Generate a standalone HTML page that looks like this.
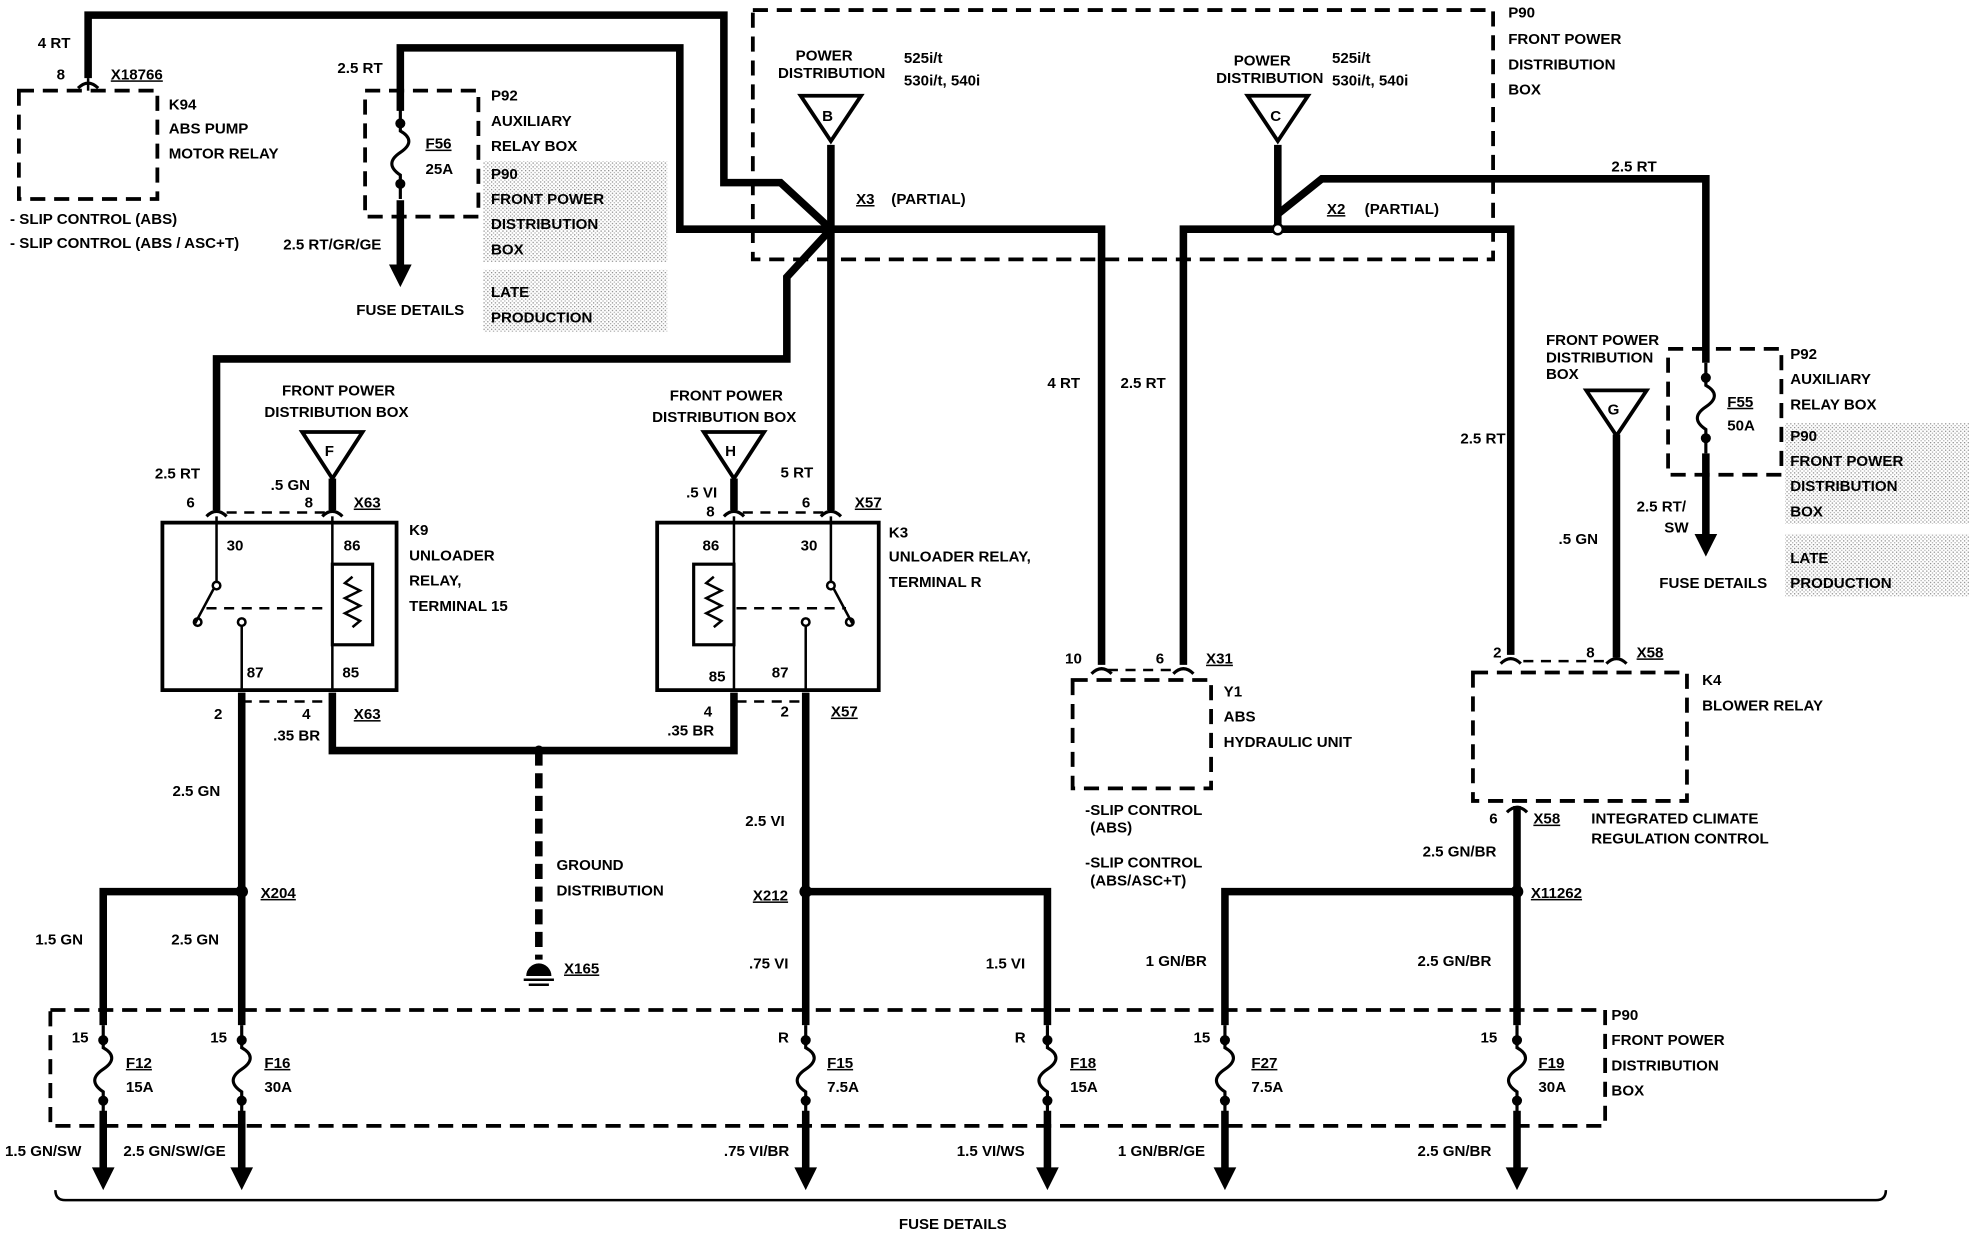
<!DOCTYPE html>
<html><head><meta charset="utf-8"><style>
html,body{margin:0;padding:0;background:#fff}
svg{display:block}
text{font-family:"Liberation Sans",sans-serif;font-weight:bold;font-size:12px;fill:#000}
.w{stroke:#000;stroke-width:6;fill:none}
.t{stroke:#000;stroke-width:2.5;fill:none}
.d{stroke:#000;stroke-width:3;fill:none;stroke-dasharray:12 7}
.dt{stroke:#000;stroke-width:2;fill:none;stroke-dasharray:8 6}
</style></head><body>
<svg width="1974" height="1248" viewBox="0 0 1568 991" preserveAspectRatio="none" xmlns="http://www.w3.org/2000/svg">
<defs>
<pattern id="dot" width="3" height="3" patternUnits="userSpaceOnUse"><rect width="3" height="3" fill="#fff"/><rect width="1" height="1" fill="#888"/><rect x="1.5" y="1.5" width="1" height="1" fill="#aaa"/></pattern>
<g id="fuse">
<path d="M0,-12 L0,6 C9,11 9,17 0,23 C-9,29 -9,35 0,41 L0,60" stroke="#000" stroke-width="2.5" fill="none"/>
<circle cx="0" cy="0" r="4" fill="#000"/><circle cx="0" cy="48" r="4" fill="#000"/>
</g>
<polygon id="arr" points="-9,0 9,0 0,18" fill="#000"/>
</defs>
<rect x="384" y="128" width="146" height="80" fill="url(#dot)"/>
<rect x="384" y="214" width="146" height="50" fill="url(#dot)"/>
<rect x="1418" y="336" width="146" height="80" fill="url(#dot)"/>
<rect x="1418" y="424" width="146" height="50" fill="url(#dot)"/>

<polyline class="w" points="70,62 70,12 575,12 575,145 620,145 660,182"/>
<polyline class="w" points="318,88 318,38 540,38 540,182 660,182 875,182 875,528"/>
<polyline class="w" points="660,182 625,220 625,285 172,285 172,405"/>
<line class="w" x1="660" y1="115" x2="660" y2="405"/>
<line class="w" x1="1015" y1="115" x2="1015" y2="182"/>
<polyline class="w" points="940,528 940,182 1200,182 1200,520"/>
<polyline class="w" points="1015,170 1050,142 1355,142 1355,288"/>
<circle cx="660" cy="182" r="4" fill="#000"/>
<circle cx="1015" cy="182" r="4" fill="#fff" stroke="#000" stroke-width="2"/>

<g fill="#fff" stroke="#000" stroke-width="3">
<polygon points="636,76 684,76 660,112"/>
<polygon points="991,76 1039,76 1015,112"/>
<polygon points="240,343 288,343 264,380"/>
<polygon points="559,343 607,343 583,380"/>
<polygon points="1260,310 1308,310 1284,346"/>
</g>
<text x="653" y="96" font-size="16">B</text>
<text x="1009" y="96" font-size="16">C</text>
<text x="258" y="362" font-size="16">F</text>
<text x="576" y="362" font-size="16">H</text>
<text x="1277" y="329" font-size="16">G</text>

<rect class="d" x="598" y="8" width="588" height="198"/>
<rect class="d" x="15" y="72" width="110" height="86"/>
<rect class="d" x="290" y="72" width="90" height="100"/>
<rect class="d" x="1325" y="277" width="90" height="100"/>
<use href="#fuse" x="318" y="98"/>
<line class="w" x1="318" y1="159" x2="318" y2="212"/>
<use href="#arr" x="318" y="210"/>
<use href="#fuse" x="1355" y="300"/>
<line class="w" x1="1355" y1="360" x2="1355" y2="426"/>
<use href="#arr" x="1355" y="424"/>
<line x1="70" y1="62" x2="70" y2="72" stroke="#000" stroke-width="2"/>
<path class="t" d="M62,70 q8,-8 16,0"/>

<line class="w" x1="1284" y1="345" x2="1284" y2="522"/>

<rect x="129" y="415" width="186" height="133" fill="none" stroke="#000" stroke-width="3"/>
<rect x="522" y="415" width="176" height="133" fill="none" stroke="#000" stroke-width="3"/>
<line class="w" x1="264" y1="380" x2="264" y2="405"/>
<line class="w" x1="583" y1="380" x2="583" y2="405"/>
<line class="dt" x1="180" y1="407" x2="260" y2="407"/>
<line class="dt" x1="590" y1="407" x2="655" y2="407"/>
<path class="t" d="M164,410 q8,-8 16,0 M256,410 q8,-8 16,0 M575,410 q8,-8 16,0 M652,410 q8,-8 16,0"/>
<g stroke="#000" stroke-width="2" fill="none">
<line x1="172" y1="410" x2="172" y2="462"/><circle cx="172" cy="465" r="3"/>
<line x1="170" y1="467" x2="155" y2="495"/><circle cx="157" cy="494" r="3"/>
<line x1="192" y1="497" x2="192" y2="548"/><circle cx="192" cy="494" r="3"/>
<line x1="264" y1="410" x2="264" y2="448"/><line x1="264" y1="512" x2="264" y2="548"/>
<rect x="264" y="448" width="32" height="64" stroke-width="2.5"/>
<path d="M280,458 l-6,5 l12,6 l-12,6 l12,6 l-12,6 l12,6 l-6,5"/>
<line x1="164" y1="483" x2="262" y2="483" stroke-dasharray="8 6"/>
</g>
<g stroke="#000" stroke-width="2" fill="none">
<line x1="660" y1="410" x2="660" y2="462"/><circle cx="660" cy="465" r="3"/>
<line x1="662" y1="467" x2="677" y2="495"/><circle cx="675" cy="494" r="3"/>
<line x1="640" y1="497" x2="640" y2="548"/><circle cx="640" cy="494" r="3"/>
<line x1="583" y1="410" x2="583" y2="448"/><line x1="583" y1="512" x2="583" y2="548"/>
<rect x="551" y="448" width="32" height="64" stroke-width="2.5"/>
<path d="M567,458 l-6,5 l12,6 l-12,6 l12,6 l-12,6 l12,6 l-6,5"/>
<line x1="585" y1="483" x2="672" y2="483" stroke-dasharray="8 6"/>
</g>
<line class="dt" x1="192" y1="557" x2="262" y2="557"/>
<line class="dt" x1="585" y1="557" x2="640" y2="557"/>

<polyline class="w" points="264,550 264,596 583,596 583,550"/>
<line x1="428" y1="596" x2="428" y2="762" stroke="#000" stroke-width="6" stroke-dasharray="12 6"/>
<circle cx="428" cy="596" r="4" fill="#000"/>
<path d="M418,775 a10,10 0 0 1 20,0 z" fill="#000"/>
<line x1="416" y1="778" x2="440" y2="778" stroke="#000" stroke-width="2"/>
<line x1="420" y1="782" x2="436" y2="782" stroke="#000" stroke-width="2"/>
<line class="w" x1="192" y1="550" x2="192" y2="814"/>
<polyline class="w" points="192,708 82,708 82,814"/>
<circle cx="192" cy="708" r="5" fill="#000"/>
<line class="w" x1="640" y1="550" x2="640" y2="814"/>
<polyline class="w" points="640,708 832,708 832,814"/>
<circle cx="640" cy="708" r="5" fill="#000"/>
<line class="w" x1="1205" y1="640" x2="1205" y2="814"/>
<polyline class="w" points="1205,708 973,708 973,814"/>
<circle cx="1205" cy="708" r="5" fill="#000"/>
<path class="t" d="M1197,645 q8,-8 16,0"/>

<rect class="d" x="852" y="540" width="110" height="86"/>
<rect class="d" x="1170" y="534" width="170" height="102"/>
<path class="t" d="M867,535 q8,-8 16,0 M932,535 q8,-8 16,0 M1192,527 q8,-8 16,0 M1276,527 q8,-8 16,0"/>
<line class="dt" x1="880" y1="532" x2="935" y2="532"/>
<line class="dt" x1="1210" y1="525" x2="1278" y2="525"/>

<rect class="d" x="40" y="802" width="1235" height="92"/>
<g>
<use href="#fuse" x="82" y="826"/><use href="#fuse" x="192" y="826"/>
<use href="#fuse" x="640" y="826"/><use href="#fuse" x="832" y="826"/>
<use href="#fuse" x="973" y="826"/><use href="#fuse" x="1205" y="826"/>
</g>
<g class="w">
<line x1="82" y1="882" x2="82" y2="930"/><line x1="192" y1="882" x2="192" y2="930"/>
<line x1="640" y1="882" x2="640" y2="930"/><line x1="832" y1="882" x2="832" y2="930"/>
<line x1="973" y1="882" x2="973" y2="930"/><line x1="1205" y1="882" x2="1205" y2="930"/>
</g>
<use href="#arr" x="82" y="927"/><use href="#arr" x="192" y="927"/>
<use href="#arr" x="640" y="927"/><use href="#arr" x="832" y="927"/>
<use href="#arr" x="973" y="927"/><use href="#arr" x="1205" y="927"/>
<path d="M44,945 q0,8 8,8 L1490,953 q8,0 8,-8" stroke="#000" stroke-width="2" fill="none"/>

<text x="30" y="38">4 RT</text><text x="45" y="63">8</text>
<text x="88" y="63" text-decoration="underline">X18766</text>
<text x="134" y="87">K94</text><text x="134" y="106">ABS PUMP</text><text x="134" y="126">MOTOR RELAY</text>
<text x="8" y="178" font-size="11">- SLIP CONTROL (ABS)</text>
<text x="8" y="197" font-size="11">- SLIP CONTROL (ABS / ASC+T)</text>
<text x="268" y="58">2.5 RT</text>
<text x="338" y="118" text-decoration="underline">F56</text><text x="338" y="138">25A</text>
<text x="390" y="80">P92</text><text x="390" y="100">AUXILIARY</text><text x="390" y="120">RELAY BOX</text>
<text x="390" y="142">P90</text><text x="390" y="162">FRONT POWER</text><text x="390" y="182">DISTRIBUTION</text><text x="390" y="202">BOX</text>
<text x="390" y="236">LATE</text><text x="390" y="256">PRODUCTION</text>
<text x="225" y="198">2.5 RT/GR/GE</text>
<text x="283" y="250">FUSE DETAILS</text>
<text x="632" y="48" font-size="11">POWER</text><text x="618" y="62" font-size="11">DISTRIBUTION</text>
<text x="718" y="50">525i/t</text><text x="718" y="68">530i/t, 540i</text>
<text x="680" y="162" text-decoration="underline">X3</text><text x="708" y="162">(PARTIAL)</text>
<text x="980" y="52" font-size="11">POWER</text><text x="966" y="66" font-size="11">DISTRIBUTION</text>
<text x="1058" y="50">525i/t</text><text x="1058" y="68">530i/t, 540i</text>
<text x="1054" y="170" text-decoration="underline">X2</text><text x="1084" y="170">(PARTIAL)</text>
<text x="1198" y="14">P90</text><text x="1198" y="35">FRONT POWER</text><text x="1198" y="55">DISTRIBUTION</text><text x="1198" y="75">BOX</text>
<text x="1280" y="136">2.5 RT</text>
<text x="832" y="308">4 RT</text><text x="890" y="308">2.5 RT</text><text x="1160" y="352">2.5 RT</text>
<text x="1228" y="274" font-size="11">FRONT POWER</text><text x="1228" y="288" font-size="11">DISTRIBUTION</text><text x="1228" y="301" font-size="11">BOX</text>
<text x="1422" y="285">P92</text><text x="1422" y="305">AUXILIARY</text><text x="1422" y="325">RELAY BOX</text>
<text x="1422" y="350">P90</text><text x="1422" y="370">FRONT POWER</text><text x="1422" y="390">DISTRIBUTION</text><text x="1422" y="410">BOX</text>
<text x="1422" y="447">LATE</text><text x="1422" y="467">PRODUCTION</text>
<text x="1372" y="323" text-decoration="underline">F55</text><text x="1372" y="342">50A</text>
<text x="1300" y="406">2.5 RT/</text><text x="1322" y="423">SW</text>
<text x="1318" y="467">FUSE DETAILS</text>
<text x="1238" y="432">.5 GN</text>
<text x="224" y="314" font-size="11">FRONT POWER</text><text x="210" y="331" font-size="11">DISTRIBUTION BOX</text>
<text x="532" y="318" font-size="11">FRONT POWER</text><text x="518" y="335" font-size="11">DISTRIBUTION BOX</text>
<text x="123" y="380">2.5 RT</text><text x="215" y="389">.5 GN</text>
<text x="148" y="403">6</text><text x="242" y="403">8</text><text x="281" y="403" text-decoration="underline">X63</text>
<text x="545" y="395">.5 VI</text><text x="620" y="379">5 RT</text>
<text x="561" y="410">8</text><text x="637" y="403">6</text><text x="679" y="403" text-decoration="underline">X57</text>
<text x="180" y="437">30</text><text x="273" y="437">86</text>
<text x="196" y="538">87</text><text x="272" y="538">85</text>
<text x="558" y="437">86</text><text x="636" y="437">30</text>
<text x="563" y="541">85</text><text x="613" y="538">87</text>
<text x="325" y="425">K9</text><text x="325" y="445">UNLOADER</text><text x="325" y="465">RELAY,</text><text x="325" y="485">TERMINAL 15</text>
<text x="706" y="427">K3</text><text x="706" y="446">UNLOADER RELAY,</text><text x="706" y="466">TERMINAL R</text>
<text x="170" y="571">2</text><text x="240" y="571">4</text><text x="281" y="571" text-decoration="underline">X63</text>
<text x="217" y="588">.35 BR</text>
<text x="559" y="569">4</text><text x="620" y="569">2</text><text x="660" y="569" text-decoration="underline">X57</text>
<text x="530" y="584">.35 BR</text>
<text x="137" y="632">2.5 GN</text><text x="592" y="656">2.5 VI</text>
<text x="442" y="691">GROUND</text><text x="442" y="711">DISTRIBUTION</text>
<text x="448" y="773" text-decoration="underline">X165</text>
<text x="207" y="713" text-decoration="underline">X204</text>
<text x="598" y="715" text-decoration="underline">X212</text>
<text x="28" y="750">1.5 GN</text><text x="136" y="750">2.5 GN</text>
<text x="595" y="769">.75 VI</text><text x="783" y="769">1.5 VI</text>
<text x="910" y="767">1 GN/BR</text><text x="1126" y="767">2.5 GN/BR</text>
<text x="846" y="527">10</text><text x="918" y="527">6</text><text x="958" y="527" text-decoration="underline">X31</text>
<text x="972" y="553">Y1</text><text x="972" y="573">ABS</text><text x="972" y="593">HYDRAULIC UNIT</text>
<text x="862" y="647" font-size="11">-SLIP CONTROL</text><text x="866" y="661" font-size="11">(ABS)</text>
<text x="862" y="689" font-size="11">-SLIP CONTROL</text><text x="866" y="703" font-size="11">(ABS/ASC+T)</text>
<text x="1186" y="522">2</text><text x="1260" y="522">8</text><text x="1300" y="522" text-decoration="underline">X58</text>
<text x="1352" y="544">K4</text><text x="1352" y="564">BLOWER RELAY</text>
<text x="1183" y="654">6</text><text x="1218" y="654" text-decoration="underline">X58</text>
<text x="1264" y="654" font-size="11">INTEGRATED CLIMATE</text><text x="1264" y="670" font-size="11">REGULATION CONTROL</text>
<text x="1130" y="680">2.5 GN/BR</text>
<text x="1216" y="713" text-decoration="underline">X11262</text>
<text x="1280" y="810">P90</text><text x="1280" y="830">FRONT POWER</text><text x="1280" y="850">DISTRIBUTION</text><text x="1280" y="870">BOX</text>
<text x="57" y="828">15</text><text x="167" y="828">15</text><text x="618" y="828">R</text><text x="806" y="828">R</text>
<text x="948" y="828">15</text><text x="1176" y="828">15</text>
<text x="100" y="848" text-decoration="underline">F12</text><text x="100" y="867">15A</text>
<text x="210" y="848" text-decoration="underline">F16</text><text x="210" y="867">30A</text>
<text x="657" y="848" text-decoration="underline">F15</text><text x="657" y="867">7.5A</text>
<text x="850" y="848" text-decoration="underline">F18</text><text x="850" y="867">15A</text>
<text x="994" y="848" text-decoration="underline">F27</text><text x="994" y="867">7.5A</text>
<text x="1222" y="848" text-decoration="underline">F19</text><text x="1222" y="867">30A</text>
<text x="4" y="918">1.5 GN/SW</text><text x="98" y="918">2.5 GN/SW/GE</text>
<text x="575" y="918">.75 VI/BR</text><text x="760" y="918">1.5 VI/WS</text>
<text x="888" y="918">1 GN/BR/GE</text><text x="1126" y="918">2.5 GN/BR</text>
<text x="714" y="976">FUSE DETAILS</text>
</svg>
</body></html>
